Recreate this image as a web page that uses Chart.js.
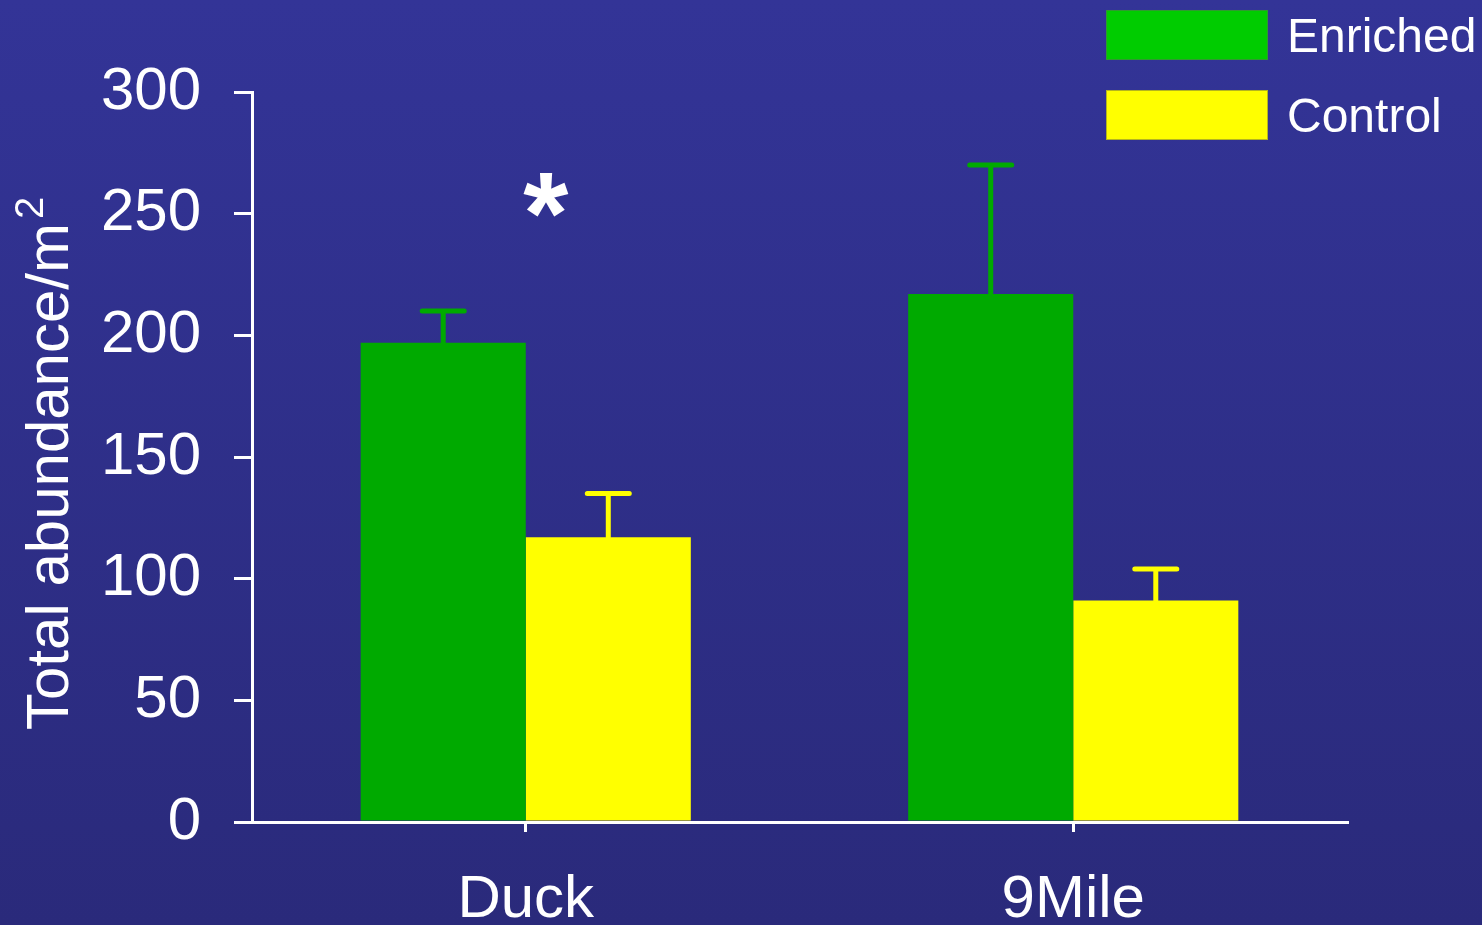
<!DOCTYPE html>
<html>
<head>
<meta charset="utf-8">
<script src="https://cdn.jsdelivr.net/npm/chart.js@4.4.1/dist/chart.umd.min.js"></script>
<style>
    html, body {
        margin: 0;
        padding: 0;
        width: 1482px;
        height: 925px;
        overflow: hidden;
        background: linear-gradient(to bottom, #333497, #2a2a7b);
    }
    #wrap {
        position: relative;
        width: 1482px;
        height: 925px;
    }
</style>
</head>
<body>
<div id="wrap"><canvas id="abundanceChart" width="1482" height="925"></canvas></div>
<script>
const sites = ["Duck", "9Mile"];

const enriched = [197, 217];
const enrichedErr = [13, 53];

const control = [117, 91];
const controlErr = [18, 13];

const yTicks = [0, 50, 100, 150, 200, 250, 300];

const yTitle = "Total abundance/m";
const yTitleSup = "2";

// significance mark above Duck
const starSite = "Duck";
const starValue = 259;

const FONT = "'Liberation Sans', Arial, Helvetica, sans-serif";

const barGreen = "#00aa00";
const legendGreen = "#00cc00";
const barYellow = "#ffff00";

// error bars drawn on top of each bar
const errorBars = {
    id: "errorBars",
    afterDatasetsDraw(chart) {
        const ctx = chart.ctx;
        const y = chart.scales.y;
        chart.data.datasets.forEach((ds, i) => {
            const meta = chart.getDatasetMeta(i);
            meta.data.forEach((bar, j) => {
                const top = y.getPixelForValue(ds.data[j] + ds.errors[j]);
                ctx.save();
                ctx.strokeStyle = ds.backgroundColor;
                ctx.lineWidth = 5;
                ctx.lineCap = "round";
                ctx.beginPath();
                ctx.moveTo(bar.x, bar.y);
                ctx.lineTo(bar.x, top);
                ctx.moveTo(bar.x - 21, top);
                ctx.lineTo(bar.x + 21, top);
                ctx.stroke();
                ctx.restore();
            });
        });
    }
};

const extras = {
    id: "extras",
    afterDraw(chart) {
        const ctx = chart.ctx;
        const x = chart.scales.x;
        const y = chart.scales.y;

        // y axis title with superscript
        ctx.save();
        ctx.translate(68, 730);
        ctx.rotate(-Math.PI / 2);
        ctx.fillStyle = "#ffffff";
        ctx.textAlign = "left";
        ctx.textBaseline = "alphabetic";
        ctx.font = "60px " + FONT;
        ctx.fillText(yTitle, 0, 0);
        const w = ctx.measureText(yTitle).width;
        ctx.font = "40px " + FONT;
        ctx.fillText(yTitleSup, w + 4, -25);
        ctx.restore();

        // asterisk
        ctx.save();
        ctx.fillStyle = "#ffffff";
        ctx.font = "bold 116px " + FONT;
        ctx.textAlign = "center";
        ctx.textBaseline = "alphabetic";
        ctx.fillText("*", x.getPixelForValue(sites.indexOf(starSite)) + 20, y.getPixelForValue(starValue) + 62);
        ctx.restore();

        // legend
        const items = [
            { label: "Enriched", color: legendGreen, border: "#2f9a2f" },
            { label: "Control", color: barYellow, border: "#b5b51e" }
        ];
        ctx.save();
        items.forEach((it, k) => {
            const top = 10 + k * 80;
            ctx.fillStyle = it.color;
            ctx.fillRect(1106, top, 162, 50);
            ctx.strokeStyle = it.border;
            ctx.lineWidth = 1;
            ctx.strokeRect(1106.5, top + 0.5, 161, 49);
            ctx.fillStyle = "#ffffff";
            ctx.font = "48px " + FONT;
            ctx.textAlign = "left";
            ctx.textBaseline = "alphabetic";
            ctx.fillText(it.label, 1287, top + 42);
        });
        ctx.restore();
    }
};

const ctx = document.getElementById("abundanceChart");

new Chart(ctx, {
    type: "bar",
    data: {
        labels: sites,
        datasets: [
            {
                label: "Enriched",
                data: enriched,
                errors: enrichedErr,
                backgroundColor: barGreen,
                borderWidth: 0
            },
            {
                label: "Control",
                data: control,
                errors: controlErr,
                backgroundColor: barYellow,
                borderWidth: 0
            }
        ]
    },
    options: {
        responsive: false,
        animation: false,
        devicePixelRatio: 1,
        categoryPercentage: 0.603,
        barPercentage: 1,
        layout: {
            padding: { left: 0, top: 92, right: 135, bottom: 0 }
        },
        plugins: {
            legend: { display: false },
            tooltip: { enabled: false }
        },
        scales: {
            x: {
                afterFit: (s) => { s.height = 103; },
                grid: {
                    offset: false,
                    drawOnChartArea: false,
                    drawTicks: true,
                    tickLength: 10,
                    color: "#ffffff",
                    lineWidth: 3
                },
                border: { display: true, color: "#ffffff", width: 3 },
                ticks: {
                    color: "#ffffff",
                    padding: 32,
                    font: { family: FONT, size: 60 }
                }
            },
            y: {
                min: 0,
                max: 300,
                afterFit: (s) => { s.width = 252; },
                afterBuildTicks: (s) => { s.ticks = yTicks.map(v => ({ value: v })); },
                grid: {
                    drawOnChartArea: false,
                    drawTicks: true,
                    tickLength: 18,
                    color: "#ffffff",
                    lineWidth: 3
                },
                border: { display: true, color: "#ffffff", width: 3 },
                ticks: {
                    color: "#ffffff",
                    padding: 33,
                    font: { family: FONT, size: 60 }
                }
            }
        }
    },
    plugins: [errorBars, extras]
});
</script>
</body>
</html>
